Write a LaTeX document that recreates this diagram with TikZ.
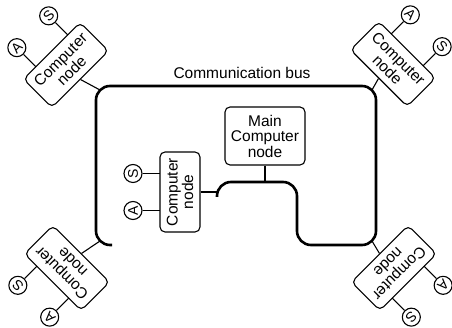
\documentclass[tikz,border=0pt]{standalone}
\usepackage{fontspec}
\setmainfont{Liberation Sans}
\usetikzlibrary{positioning}

\tikzset{
  cbox/.style={draw, rounded corners=5pt, line width=1.1pt, align=center,
    minimum width=80pt, minimum height=40pt, inner sep=2pt,
    font=\fontsize{15.5}{15.5}\selectfont, transform shape},
  port/.style={draw, circle, line width=1.1pt, minimum size=18pt,
    inner sep=0pt, font=\fontsize{14}{14}\selectfont, transform shape},
  wire/.style={line width=1.1pt},
  bus/.style={line width=2.6pt, rounded corners=14pt},
  pics/compnode/.style 2 args={code={
    \node[cbox] (-box) at (0,0) {Computer\\node};
    \node[port] (-s) at (#1,#2) {S};
    \node[port] (-a) at (-#1,#2) {A};
    \draw[wire] (-s) -- (#1,20);
    \draw[wire] (-a) -- (-#1,20);
  }}
}

\begin{document}
\begin{tikzpicture}[x=1pt,y=1pt]
  \useasboundingbox (0,0) rectangle (452,328);

  % the bus
  \draw[bus] (112,83) -| (96,242) -| (376,83) -| (297,146) -| (217,131);
  \node[font=\fontsize{15.5}{15.5}\selectfont] (buslabel) at (242,255) {Communication bus};
  \coordinate (tltap) at (100,238);
  \coordinate (trtap) at (372,238);
  \coordinate (bltap) at (100,87);
  \coordinate (brtap) at (372,87);
  \coordinate (maintap) at (265,146);
  \coordinate (hooktap) at (217.6,136);

  % main node
  \node[cbox, minimum height=58pt] (main) at (265,192) {Main\\Computer\\node};
  \draw[wire] (main) -- (maintap);

  % computer nodes
  \pic[rotate=90] (cn) at (180,136) {compnode={18.5}{47}};
  \pic[rotate=45] (tl) at (66,263) {compnode={22.5}{47}};
  \pic[rotate=-45] (tr) at (393,264) {compnode={22.5}{47}};
  \pic[rotate=135] (bl) at (67,60) {compnode={22.5}{47}};
  \pic[rotate=-135] (br) at (394,60) {compnode={22.5}{47}};

  \draw[wire] (cn-box.south) -- (hooktap);
  \draw[wire] (tl-box.south) -- (tltap);
  \draw[wire] (tr-box.south) -- (trtap);
  \draw[wire] (bl-box.south) -- (bltap);
  \draw[wire] (br-box.south) -- (brtap);
\end{tikzpicture}
\end{document}
